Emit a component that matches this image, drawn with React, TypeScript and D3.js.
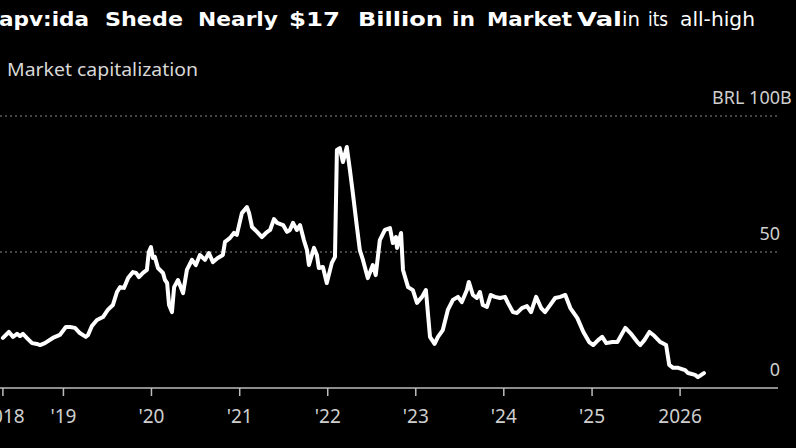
import React, { useEffect } from 'react';
import * as d3 from 'd3';

const W = 796;
const H = 448;

// market cap, BRL billions
const dates = [
  '2018-04-25', '2018-05-20', '2018-06-06', '2018-06-23', '2018-07-05', '2018-07-17', '2018-08-07', '2018-08-24',
  '2018-09-13', '2018-09-26', '2018-10-16', '2018-11-18', '2018-12-17', '2019-01-11', '2019-01-28', '2019-02-18',
  '2019-03-10', '2019-04-04', '2019-04-13', '2019-04-29', '2019-05-20', '2019-06-14', '2019-07-04', '2019-07-25',
  '2019-08-11', '2019-08-24', '2019-09-09', '2019-09-26', '2019-10-16', '2019-10-29', '2019-11-10', '2019-11-27',
  '2019-12-13', '2019-12-21', '2019-12-30', '2020-01-07', '2020-01-15', '2020-01-28', '2020-02-18', '2020-02-26',
  '2020-03-06', '2020-03-14', '2020-03-26', '2020-04-04', '2020-04-20', '2020-05-11', '2020-05-27', '2020-06-17',
  '2020-07-03', '2020-07-20', '2020-08-10', '2020-08-26', '2020-09-12', '2020-10-02', '2020-10-23', '2020-11-01',
  '2020-11-21', '2020-12-08', '2020-12-20', '2021-01-10', '2021-01-31', '2021-02-09', '2021-02-21', '2021-03-14',
  '2021-04-03', '2021-04-20', '2021-05-07', '2021-05-23', '2021-06-05', '2021-06-30', '2021-07-16', '2021-07-28',
  '2021-08-10', '2021-08-26', '2021-09-08', '2021-09-24', '2021-10-07', '2021-10-15', '2021-11-05', '2021-11-17',
  '2021-11-25', '2021-12-12', '2021-12-28', '2022-01-18', '2022-01-31', '2022-02-08', '2022-02-20', '2022-03-05',
  '2022-03-21', '2022-04-03', '2022-04-15', '2022-05-02', '2022-05-14', '2022-05-27', '2022-06-16', '2022-07-07',
  '2022-07-19', '2022-08-05', '2022-08-26', '2022-09-16', '2022-09-28', '2022-10-11', '2022-10-15', '2022-11-01',
  '2022-11-09', '2022-11-30', '2022-12-20', '2023-01-06', '2023-01-27', '2023-02-12', '2023-03-01', '2023-03-20',
  '2023-04-03', '2023-04-23', '2023-05-14', '2023-06-04', '2023-06-25', '2023-07-11', '2023-08-01', '2023-08-09',
  '2023-08-26', '2023-09-11', '2023-09-24', '2023-10-06', '2023-10-23', '2023-11-08', '2023-11-25', '2023-12-16',
  '2024-01-06', '2024-01-18', '2024-02-08', '2024-02-25', '2024-03-16', '2024-04-06', '2024-04-23', '2024-05-14',
  '2024-06-04', '2024-06-20', '2024-07-11', '2024-08-01', '2024-08-22', '2024-09-12', '2024-10-03', '2024-11-01',
  '2024-11-26', '2024-12-20', '2025-01-06', '2025-01-26', '2025-02-12', '2025-03-01', '2025-03-26', '2025-04-16',
  '2025-04-28', '2025-05-19', '2025-06-09', '2025-07-08', '2025-07-20', '2025-08-06', '2025-08-27', '2025-09-12',
  '2025-10-11', '2025-11-04', '2025-11-17', '2025-12-03', '2025-12-24', '2026-01-22', '2026-02-03', '2026-03-04',
  '2026-03-16', '2026-04-10',
];

const marketCap = [
  18.4, 20.6, 18.8, 19.9, 19.1, 19.9, 18.0, 16.5,
  16.2, 15.8, 16.5, 18.4, 19.5, 22.4, 22.4, 22.1,
  20.2, 18.8, 19.5, 22.8, 25.0, 26.1, 28.7, 30.5,
  35.3, 37.1, 36.8, 40.4, 42.6, 42.3, 40.8, 42.3,
  43.4, 50.0, 51.8, 47.8, 48.2, 44.1, 42.3, 39.7,
  38.6, 30.5, 27.9, 37.1, 39.7, 34.9, 43.4, 47.1,
  45.2, 48.9, 47.1, 49.6, 46.3, 47.8, 48.9, 53.7,
  55.1, 57.0, 56.3, 64.3, 66.5, 64.3, 59.2, 57.4,
  55.5, 57.0, 58.1, 62.1, 60.7, 59.9, 57.4, 58.1,
  60.7, 58.1, 59.9, 54.4, 50.7, 45.2, 51.5, 48.9,
  44.1, 44.5, 38.6, 46.0, 48.2, 87.5, 88.2, 83.1,
  88.6, 80.1, 71.7, 59.2, 50.7, 47.1, 40.4, 45.2,
  41.5, 54.4, 58.1, 58.8, 53.3, 55.5, 51.5, 57.0,
  43.4, 37.1, 36.0, 31.3, 33.5, 36.0, 18.8, 16.2,
  18.8, 21.3, 28.7, 32.4, 33.5, 31.6, 36.0, 39.0,
  34.2, 33.1, 35.3, 30.5, 29.8, 34.2, 33.5, 33.1,
  33.5, 31.3, 27.9, 27.6, 29.4, 30.1, 27.9, 33.5,
  29.4, 27.9, 30.5, 33.1, 33.5, 34.2, 29.4, 25.7,
  20.6, 16.9, 15.8, 17.6, 18.8, 16.5, 16.9, 16.9,
  18.8, 22.1, 20.2, 16.9, 15.8, 17.6, 20.6, 19.5,
  16.9, 15.8, 8.5, 7.4, 7.4, 6.6, 5.5, 4.8,
  4.0, 5.5,
];

const yTicks = [0, 50, 100];
const xTickDates = ['2018-04-25', '2019-01-01', '2020-01-01', '2021-01-01', '2022-01-01', '2023-01-01', '2024-01-01', '2025-01-01', '2026-01-01'];
const xTickLabels = ['2018', "'19", "'20", "'21", "'22", "'23", "'24", "'25", '2026'];

// title words: [text, bold, left, right]
const titleWords: Array<[string, boolean, number, number]> = [
  ['apv:ida', true, -1, 89],
  ['Shede', true, 105, 183],
  ['Nearly', true, 198, 278],
  ['$17', true, 289, 340],
  ['Billion', true, 358, 443],
  ['in', true, 452, 475],
  ['Market', true, 487, 572],
  ['Val', true, 577, 622],
  ['in', false, 622, 640],
  ['its', false, 648, 668],
  ['all-high', false, 680, 755],
];

const parse = d3.timeParse('%Y-%m-%d');

export default function App() {
  useEffect(() => {
    document.body.style.margin = '0';
    document.body.style.background = '#000';
  }, []);

  const plotL = 0;
  const plotR = 778;
  const x = d3.scaleTime()
    .domain([parse('2018-04-13')!, parse('2027-02-11')!])
    .range([plotL, plotR]);
  const y = d3.scaleLinear().domain([0, 100]).range([388, 116]);

  const pts = dates.map((d, i) => ({ date: parse(d)!, v: marketCap[i] }));
  const line = d3.line<{ date: Date; v: number }>()
    .x(d => x(d.date))
    .y(d => y(d.v));

  const labelFont = '"Noto Sans", sans-serif';
  const labelX = 780;

  return (
    <svg width={W} height={H} style={{ position: 'absolute', left: 0, top: 0, background: '#000' }}>
      <rect width={W} height={H} fill="#000" />

      {/* title */}
      {titleWords.map(([t, bold, l, r], i) => (
        <text
          key={i}
          x={l}
          y={26}
          fill="#fff"
          fontFamily='"DejaVu Sans", sans-serif'
          fontWeight={bold ? 700 : 400}
          fontSize={19}
          textLength={r - l}
          lengthAdjust="spacingAndGlyphs"
        >
          {t}
        </text>
      ))}

      <text x={7} y={76} fill="#d8d8d8" fontFamily={labelFont} fontSize={18.5} textLength={191} lengthAdjust="spacingAndGlyphs">
        Market capitalization
      </text>

      {/* grid */}
      {yTicks.filter(t => t > 0).map(t => (
        <line key={t} x1={plotL} x2={plotR} y1={y(t)} y2={y(t)} stroke="#8a8a8a" strokeWidth={1} strokeDasharray="2,3" />
      ))}
      {yTicks.map(t => (
        <g key={t}>
          <text x={labelX} y={y(t) - 12} fill="#cfcfcf" fontFamily={labelFont} fontSize={18} textAnchor="end">
            {t === 100 ? 'BRL 100' : t}
          </text>
          {t === 100 && (
            <text x={labelX} y={y(t) - 12} fill="#cfcfcf" fontFamily={labelFont} fontSize={18}>B</text>
          )}
        </g>
      ))}

      {/* x axis */}
      <line x1={plotL} x2={plotR} y1={y(0)} y2={y(0)} stroke="#bdbdbd" strokeWidth={1.5} />
      {xTickDates.map((d, i) => {
        const tx = x(parse(d)!);
        return (
          <g key={d}>
            <line x1={tx} x2={tx} y1={y(0)} y2={y(0) + 8} stroke="#bdbdbd" strokeWidth={1.5} />
            <text x={tx} y={423} fill="#cfcfcf" fontFamily={labelFont} fontSize={19} textAnchor="middle">
              {xTickLabels[i]}
            </text>
          </g>
        );
      })}

      {/* series */}
      <path d={line(pts) ?? undefined} fill="none" stroke="#fff" strokeWidth={4} strokeLinejoin="round" strokeLinecap="round" />
    </svg>
  );
}
